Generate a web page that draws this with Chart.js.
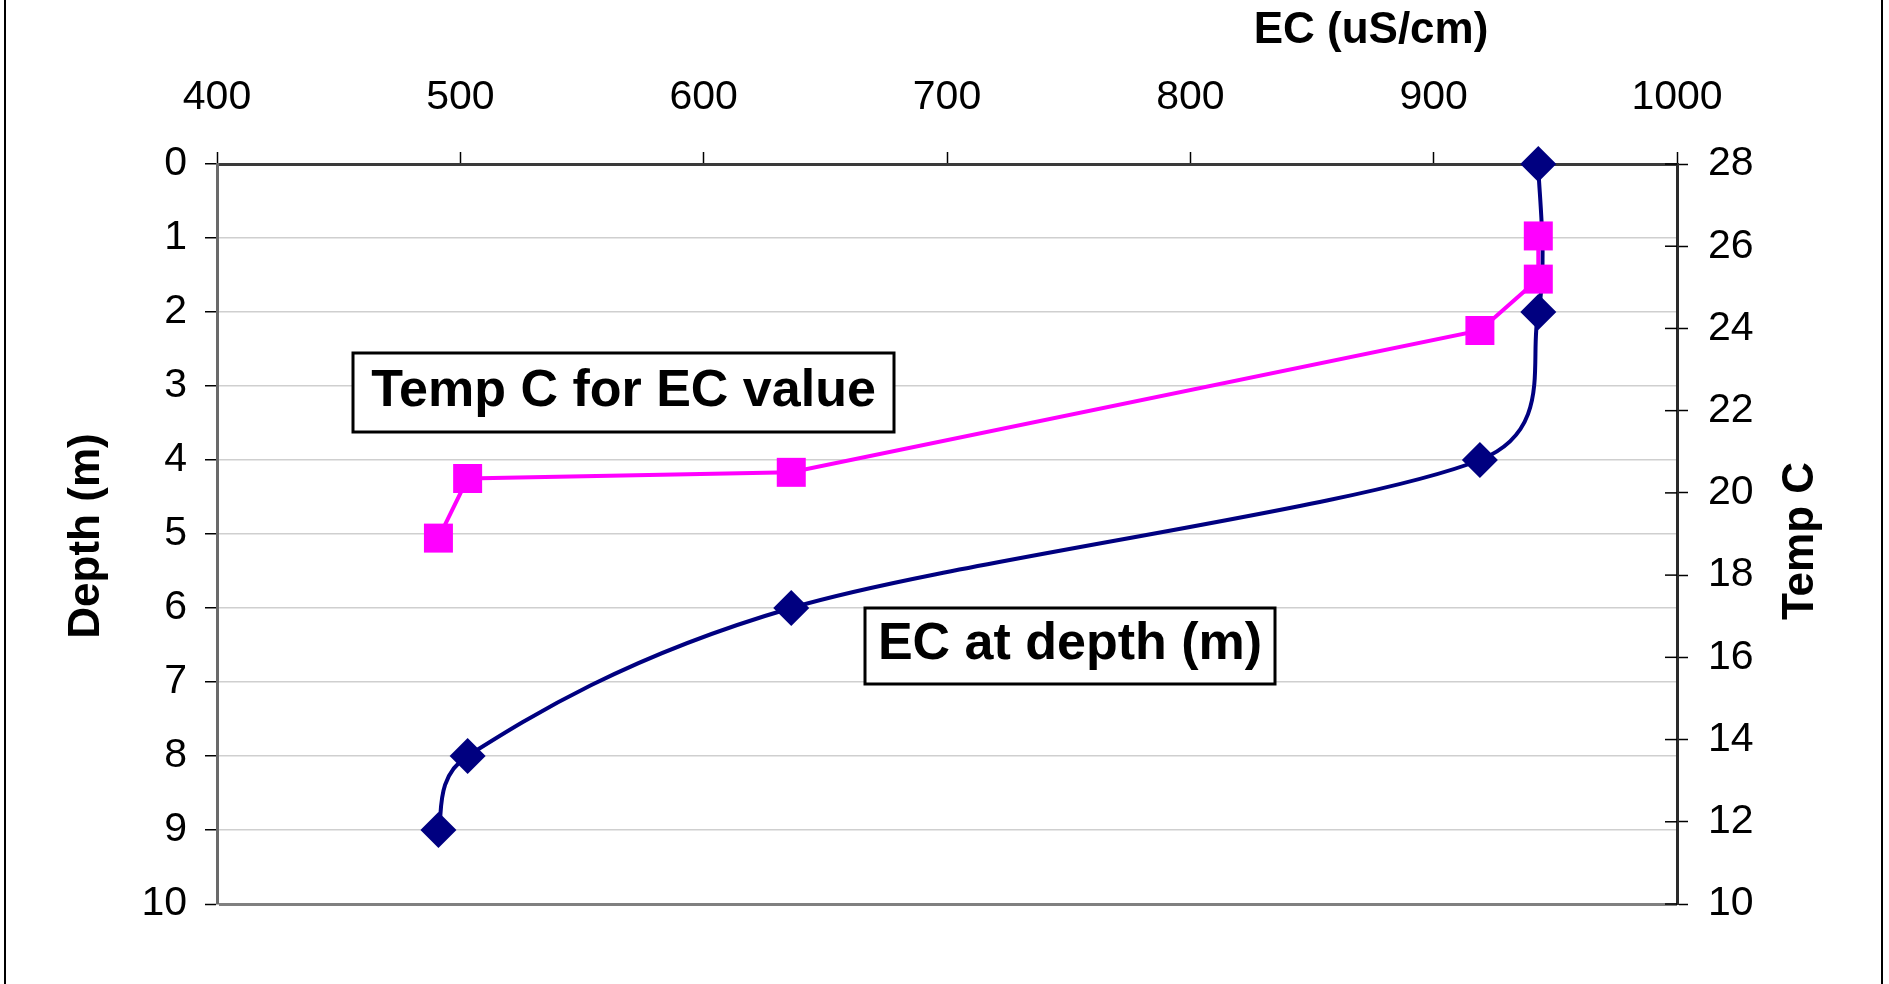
<!DOCTYPE html>
<html>
<head>
<meta charset="utf-8">
<script src="https://cdn.jsdelivr.net/npm/chart.js@4.4.1/dist/chart.umd.min.js"></script>
<style>
html,body{margin:0;padding:0;background:#fff;overflow:hidden}
#wrap{position:relative;width:1889px;height:984px}
canvas{display:block}
</style>
</head>
<body>
<div id="wrap"><canvas id="c" width="1889" height="984"></canvas></div>
<script>
// ---- data ----
const depthM      = [0, 2, 4, 6, 8, 9];
const ecAtDepth   = [943, 943, 919, 636, 503, 491];
const ecForTemp   = [491, 503, 636, 919, 943, 943];
const tempC       = [18.9, 20.35, 20.5, 23.95, 25.2, 26.25];
const ecTicks     = [400, 500, 600, 700, 800, 900, 1000];
const depthTicks  = [0, 1, 2, 3, 4, 5, 6, 7, 8, 9, 10];
const tempTicks   = [10, 12, 14, 16, 18, 20, 22, 24, 26, 28];
const labelTemp   = 'Temp C for EC value';
const labelEC     = 'EC at depth (m)';
const titleX      = 'EC (uS/cm)';
const titleY      = 'Depth (m)';
const titleY2     = 'Temp C';

const FONT = '"Liberation Sans", Arial, Helvetica, sans-serif';
const W = 1889, H = 984;

const ecSeries = depthM.map((d, i) => ({x: ecAtDepth[i], y: d}));
const tempSeries = ecForTemp.map((e, i) => ({x: e, y: tempC[i]}));

function boxText(ctx, text, cx, cy, w, h) {
  ctx.save();
  ctx.fillStyle = '#fff';
  ctx.fillRect(cx - w / 2, cy - h / 2, w, h);
  ctx.lineWidth = 3;
  ctx.strokeStyle = '#000';
  ctx.strokeRect(cx - w / 2, cy - h / 2, w, h);
  ctx.fillStyle = '#000';
  ctx.font = 'bold 52px ' + FONT;
  ctx.textAlign = 'center';
  ctx.textBaseline = 'middle';
  ctx.fillText(text, cx, cy - 1);
  ctx.restore();
}

// Spreadsheet-style smoothing: Catmull-Rom tangents (1/6), each control arm
// limited to half of its own segment, applied to the library's point pixels.
const smoothLine = {
  id: 'smoothLine',
  beforeDatasetDraw(chart, args) {
    const ds = chart.data.datasets[args.index];
    if (!ds.excelSmooth) return;
    const meta = args.meta;
    if (meta.dataset && meta.dataset.updateControlPoints) {
      meta.dataset.updateControlPoints(chart.chartArea, meta.iScale ? meta.iScale.axis : 'x');
    }
    const pts = meta.data;
    const f = 1 / 6;
    for (let i = 0; i < pts.length; i++) {
      const cur = pts[i];
      const prev = pts[i - 1] || cur;
      const next = pts[i + 1] || cur;
      const tx = (next.x - prev.x) * f, ty = (next.y - prev.y) * f;
      const tl = Math.hypot(tx, ty) || 1;
      const dIn = Math.hypot(cur.x - prev.x, cur.y - prev.y);
      const dOut = Math.hypot(next.x - cur.x, next.y - cur.y);
      const lin = Math.min(tl, dIn / 2), lout = Math.min(tl, dOut / 2);
      cur.cp1x = cur.x - tx / tl * lin;
      cur.cp1y = cur.y - ty / tl * lin;
      cur.cp2x = cur.x + tx / tl * lout;
      cur.cp2y = cur.y + ty / tl * lout;
    }
    if (meta.dataset) meta.dataset._pointsUpdated = true;
  }
};

const decor = {
  id: 'decor',
  beforeDraw(chart) {
    const ctx = chart.ctx;
    ctx.save();
    ctx.fillStyle = '#fff';
    ctx.fillRect(0, 0, W, H);
    ctx.strokeStyle = '#000';
    ctx.lineWidth = 2;
    ctx.beginPath();
    ctx.moveTo(5, 0); ctx.lineTo(5, H);
    ctx.moveTo(1882, 0); ctx.lineTo(1882, H);
    ctx.stroke();
    ctx.restore();
  },
  afterDraw(chart) {
    const {ctx, chartArea: a, scales} = chart;
    ctx.save();
    const y2 = scales.y2;
    ctx.strokeStyle = '#000';
    ctx.lineWidth = 1.5;
    y2.ticks.forEach(t => {
      const py = y2.getPixelForValue(t.value);
      ctx.beginPath();
      ctx.moveTo(a.right - 12, py);
      ctx.lineTo(a.right, py);
      ctx.stroke();
    });
    ctx.fillStyle = '#000';
    ctx.font = 'bold 44px ' + FONT;
    ctx.textAlign = 'center';
    ctx.textBaseline = 'middle';
    ctx.fillText(titleX, 1371, 31);
    ctx.save();
    ctx.translate(87, (a.top + a.bottom) / 2 + 2);
    ctx.rotate(-Math.PI / 2);
    ctx.fillText(titleY, 0, 0);
    ctx.restore();
    ctx.save();
    ctx.translate(1801, (a.top + a.bottom) / 2 + 7);
    ctx.rotate(-Math.PI / 2);
    ctx.fillText(titleY2, 0, 0);
    ctx.restore();
    ctx.restore();
    boxText(ctx, labelTemp, 623.5, 392.5, 541, 79);
    boxText(ctx, labelEC, 1070, 646, 410, 76);
  }
};

new Chart(document.getElementById('c'), {
  type: 'scatter',
  data: {
    datasets: [
      {
        label: 'Temp C for EC value',
        data: tempSeries,
        xAxisID: 'x',
        yAxisID: 'y2',
        showLine: true,
        borderColor: '#FF00FF',
        backgroundColor: '#FF00FF',
        borderWidth: 4,
        pointStyle: 'rect',
        pointRadius: 20.5,
        pointBorderWidth: 0,
        pointBackgroundColor: '#FF00FF',
        tension: 0,
        clip: false,
        order: 0
      },
      {
        label: 'EC at depth (m)',
        data: ecSeries,
        xAxisID: 'x',
        yAxisID: 'y',
        showLine: true,
        excelSmooth: true,
        borderColor: '#000080',
        backgroundColor: '#000080',
        borderWidth: 4,
        pointStyle: 'rectRot',
        pointRadius: 18,
        pointBorderWidth: 0,
        pointBackgroundColor: '#000080',
        tension: 0.4,
        clip: false,
        order: 1
      }
    ]
  },
  options: {
    responsive: false,
    animation: false,
    devicePixelRatio: 1,
    layout: {padding: {left: 0, top: 0, right: 0, bottom: H - 904}},
    plugins: {legend: {display: false}, tooltip: {enabled: false}, title: {display: false}},
    scales: {
      x: {
        type: 'linear',
        position: 'top',
        min: ecTicks[0],
        max: ecTicks[ecTicks.length - 1],
        afterBuildTicks: s => { s.ticks = ecTicks.map(v => ({value: v})); },
        afterFit: s => { s.height = 164; },
        ticks: {color: '#000', font: {family: FONT, size: 41}, padding: 30, maxRotation: 0, autoSkip: false, callback: v => String(v)},
        grid: {drawOnChartArea: false, drawTicks: true, tickLength: 12, tickColor: '#000', tickWidth: 1.5},
        border: {display: true, color: '#3a3a3a', width: 3}
      },
      y: {
        type: 'linear',
        position: 'left',
        reverse: true,
        min: depthTicks[0],
        max: depthTicks[depthTicks.length - 1],
        afterBuildTicks: s => { s.ticks = depthTicks.map(v => ({value: v})); },
        afterFit: s => { s.width = 217; },
        ticks: {color: '#000', font: {family: FONT, size: 41}, padding: 18, autoSkip: false, callback: v => String(v)},
        grid: {
          drawOnChartArea: true,
          drawTicks: true,
          tickLength: 12,
          tickColor: '#000',
          tickWidth: 1.5,
          color: c => c.tick && c.tick.value === depthTicks[0] ? 'rgba(0,0,0,0)' : (c.tick && c.tick.value === depthTicks[depthTicks.length - 1] ? '#808080' : '#cfcfcf'),
          lineWidth: c => c.tick && c.tick.value === depthTicks[depthTicks.length - 1] ? 3 : 1.5
        },
        border: {display: true, color: '#6a6a6a', width: 3}
      },
      y2: {
        type: 'linear',
        position: 'right',
        min: tempTicks[0],
        max: tempTicks[tempTicks.length - 1],
        afterBuildTicks: s => { s.ticks = tempTicks.map(v => ({value: v})); },
        afterFit: s => { s.width = W - 1677; },
        ticks: {color: '#000', font: {family: FONT, size: 41}, padding: 20, autoSkip: false, callback: v => String(v)},
        grid: {drawOnChartArea: false, drawTicks: true, tickLength: 11, tickColor: '#000', tickWidth: 1.5},
        border: {display: true, color: '#2a2a2a', width: 3}
      }
    }
  },
  plugins: [smoothLine, decor]
});
</script>
</body>
</html>
